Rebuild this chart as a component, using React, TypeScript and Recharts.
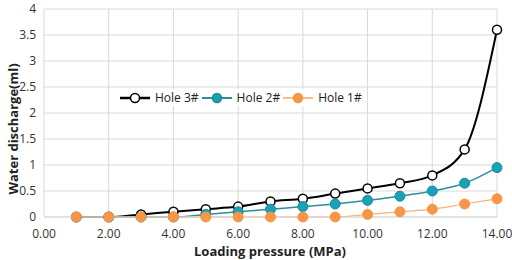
import { LineChart, Line, XAxis, YAxis, CartesianGrid, Legend } from 'recharts';

const pressure = [1, 2, 3, 4, 5, 6, 7, 8, 9, 10, 11, 12, 13, 14];
const hole3 = [0, 0, 0.05, 0.1, 0.15, 0.2, 0.3, 0.35, 0.45, 0.55, 0.65, 0.8, 1.3, 3.6];
const hole2 = [0, 0, 0, 0, 0.05, 0.1, 0.15, 0.2, 0.25, 0.32, 0.4, 0.5, 0.65, 0.95];
const hole1 = [0, 0, 0, 0, 0, 0, 0, 0, 0, 0.05, 0.1, 0.15, 0.25, 0.35];

const xTicks = [0, 2, 4, 6, 8, 10, 12, 14];
const yTicks = [0, 0.5, 1, 1.5, 2, 2.5, 3, 3.5, 4];

const data = pressure.map((p, i) => ({
  p,
  h3: hole3[i],
  h2: hole2[i],
  h1: hole1[i],
}));

const FONT = '"Open Sans", sans-serif';

// legend order as in the picture
const legendItems = [
  { key: 'h3', name: 'Hole 3#', line: '#000000', fill: '#ffffff', stroke: '#000000', width: 2 },
  { key: 'h2', name: 'Hole 2#', line: '#2b8f99', fill: '#17a2b8', stroke: '#1d8a96', width: 1.5 },
  { key: 'h1', name: 'Hole 1#', line: '#f7b27a', fill: '#f79646', stroke: '#f79646', width: 1.2 },
];

function LegendBox() {
  return (
    <div style={{ display: 'flex', alignItems: 'center', background: '#fff', fontFamily: FONT, fontSize: 12, color: '#222' }}>
      {legendItems.map((it) => (
        <div key={it.key} style={{ display: 'flex', alignItems: 'center', marginRight: 2 }}>
          <svg width={32} height={12}>
            <line x1={1} y1={6} x2={31} y2={6} stroke={it.line} strokeWidth={it.width + 0.5} />
            <circle cx={16} cy={6} r={4.5} fill={it.fill} stroke={it.stroke} strokeWidth={1.5} />
          </svg>
          <span style={{ marginLeft: 4 }}>{it.name}</span>
        </div>
      ))}
    </div>
  );
}

export default function App() {
  return (
    <div style={{ position: 'absolute', left: 0, top: 0, width: 512, height: 260, background: '#fff' }}>
      <LineChart width={512} height={260} data={data} margin={{ top: 9, right: 15, left: 0, bottom: 0 }}>
        <CartesianGrid stroke="#d9d9d9" strokeWidth={1} horizontalValues={yTicks} verticalValues={xTicks} />
        <XAxis
          dataKey="p"
          type="number"
          domain={[0, 14]}
          ticks={xTicks}
          tickFormatter={(v: number) => v.toFixed(2)}
          axisLine={{ stroke: '#d9d9d9' }}
          tickLine={false}
          tickMargin={6}
          height={43}
          tick={{ fill: '#333', fontSize: 12, fontFamily: FONT }}
          label={{
            content: () => (
              <text x={270} y={256} textAnchor="middle" fontFamily={FONT} fontWeight="bold" fontSize={13} fill="#222">
                Loading pressure (MPa)
              </text>
            ),
          }}
        />
        <YAxis
          type="number"
          domain={[0, 4]}
          ticks={yTicks}
          axisLine={false}
          tickLine={false}
          width={44}
          tick={{ fill: '#333', fontSize: 12, fontFamily: FONT }}
          label={{
            content: () => (
              <text
                x={18}
                y={129}
                transform="rotate(-90 18 129)"
                textAnchor="middle"
                fontFamily={FONT}
                fontWeight="bold"
                fontSize={13}
                fill="#222"
              >
                Water discharge(ml)
              </text>
            ),
          }}
        />
        <Legend
          layout="horizontal"
          verticalAlign="middle"
          align="center"
          content={() => <LegendBox />}
          wrapperStyle={{ top: 89, left: 119, width: 'auto' }}
        />
        <Line
          type="monotone"
          dataKey="h3"
          name="Hole 3#"
          stroke="#000000"
          strokeWidth={2}
          dot={{ r: 4.5, fill: '#ffffff', stroke: '#000000', strokeWidth: 1.5 }}
          isAnimationActive={false}
        />
        <Line
          type="monotone"
          dataKey="h2"
          name="Hole 2#"
          stroke="#2b8f99"
          strokeWidth={1.5}
          dot={{ r: 5, fill: '#17a2b8', stroke: '#1d8a96', strokeWidth: 1 }}
          isAnimationActive={false}
        />
        <Line
          type="monotone"
          dataKey="h1"
          name="Hole 1#"
          stroke="#f7b27a"
          strokeWidth={1.2}
          dot={{ r: 5, fill: '#f79646', stroke: '#f79646', strokeWidth: 1 }}
          isAnimationActive={false}
        />
      </LineChart>
    </div>
  );
}
